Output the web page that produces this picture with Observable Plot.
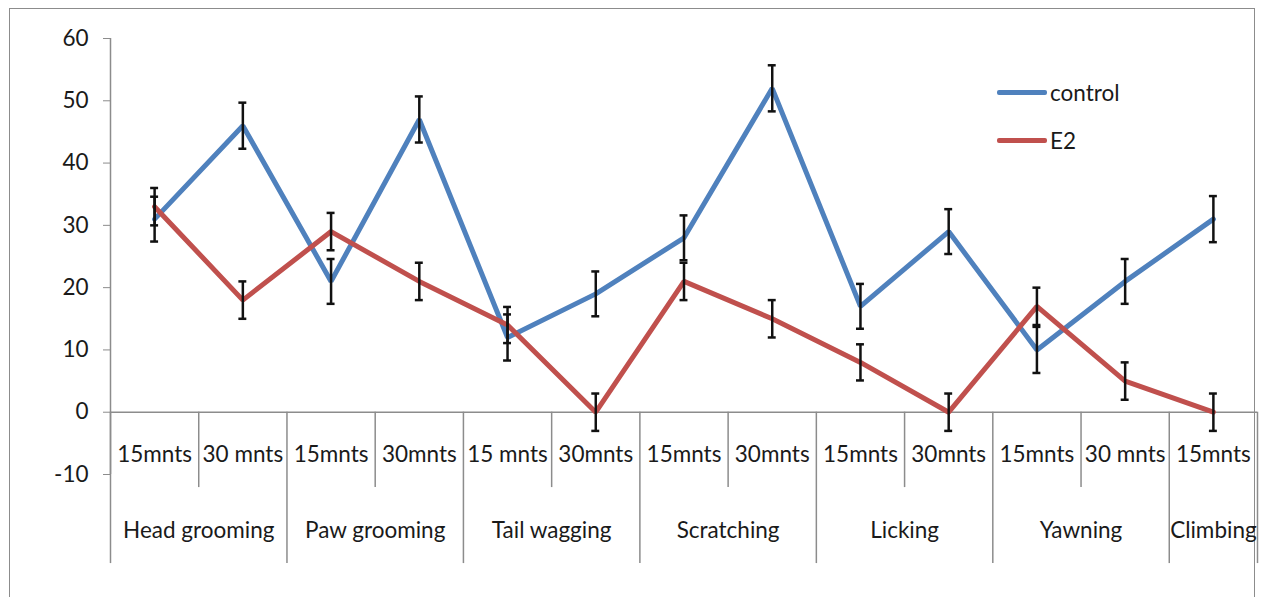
<!DOCTYPE html>
<html><head><meta charset="utf-8">
<script src="https://cdn.jsdelivr.net/npm/d3@7"></script>
<script src="https://cdn.jsdelivr.net/npm/@observablehq/plot@0.6"></script>
<style>
body{margin:0;background:#fff;overflow:hidden;}
#wrap{position:relative;width:1265px;height:597px;overflow:hidden;}
#border{position:absolute;left:9px;top:8px;width:1246px;height:640px;border:1.5px solid #8c8c8c;box-sizing:border-box;}
#chart{position:absolute;left:0;top:0;}
.leg{position:absolute;left:997px;display:flex;align-items:center;font-family:Lato;font-size:22.5px;color:#1a1a1a;}
.leg span.sw{display:inline-block;width:50px;height:5px;border-radius:2px;margin-right:3px;}
</style></head><body>
<div id="wrap"><div id="border"></div><div id="chart"></div>
<div class="leg" style="top:79px"><span class="sw" style="background:#4F81BD"></span>control</div>
<div class="leg" style="top:127px"><span class="sw" style="background:#C0504D"></span>E2</div>
</div>
<script>
const groups = ["Head grooming","Paw grooming","Tail wagging","Scratching","Licking","Yawning","Climbing"];
const groupOf = [0,0,1,1,2,2,3,3,4,4,5,5,6];
const times = ["15mnts","30 mnts","15mnts","30mnts","15 mnts","30mnts","15mnts","30mnts","15mnts","30mnts","15mnts","30 mnts","15mnts"];
const control = [31,46,21,47,12,19,28,52,17,29,10,21,31];
const controlErr = [3.6,3.7,3.6,3.7,3.7,3.6,3.6,3.7,3.6,3.6,3.7,3.6,3.7];
const e2 = [33,18,29,21,14,0,21,15,8,0,17,5,0];
const e2Err = [3,3,3,3,2.9,3,3,3,2.9,3,3,3,3];
const yTicks = [-10,0,10,20,30,40,50,60];

const rows = [];
times.forEach((t,i)=>rows.push({i, series:"control", value:control[i], err:controlErr[i]}));
times.forEach((t,i)=>rows.push({i, series:"E2", value:e2[i], err:e2Err[i]}));
const timeRows = times.map((t,i)=>({i, t}));
const groupRows = groups.map((g,gi)=>{
  const idx = groupOf.map((v,i)=>v===gi?i:-1).filter(i=>i>=0);
  return {g, mid: d3.mean(idx)};
});
const shortSeps = [], longSeps = [];
for (let i=0;i<=times.length;i++){
  const b = i-0.5;
  if (i===0 || i===times.length || groupOf[i]!==groupOf[i-1]) longSeps.push(b); else shortSeps.push(b);
}
const grey = "#8c8c8c";
const capW = 0.045;
const fs = 22.5;

const plot = Plot.plot({
  width:1265, height:597,
  marginLeft:110, marginRight:8, marginTop:38, marginBottom:123,
  style:{fontFamily:"Lato", fontSize:fs+"px", color:"#1a1a1a", background:"transparent", overflow:"visible"},
  x:{type:"linear", domain:[-0.5, times.length-0.5], axis:null},
  y:{domain:[-10,60], label:null},
  color:{domain:["control","E2"], range:["#4F81BD","#C0504D"]},
  marks:[
    Plot.ruleX([-0.5], {y1:60, y2:-10, stroke:grey, strokeWidth:1.5}),
    Plot.ruleY([0], {stroke:grey, strokeWidth:1.5}),
    Plot.ruleX(shortSeps, {x:d=>d, y1:0, y2:-12.1, stroke:grey, strokeWidth:1.5, clip:false}),
    Plot.ruleX(longSeps, {x:d=>d, y1:0, y2:-24.3, stroke:grey, strokeWidth:1.5, clip:false}),
    Plot.axisY({ticks:yTicks, tickSize:7, tickPadding:15, stroke:grey, fontSize:fs, tickFormat:d=>d, label:null, color:"#1a1a1a"}),
    Plot.line(rows, {x:"i", y:"value", z:"series", stroke:"series", strokeWidth:5, strokeLinejoin:"miter"}),
    Plot.ruleX(rows, {x:"i", y1:d=>d.value-d.err, y2:d=>d.value+d.err, stroke:"#111", strokeWidth:2.5}),
    Plot.ruleY(rows, {y:d=>d.value+d.err, x1:d=>d.i-capW, x2:d=>d.i+capW, stroke:"#111", strokeWidth:2.5}),
    Plot.ruleY(rows, {y:d=>d.value-d.err, x1:d=>d.i-capW, x2:d=>d.i+capW, stroke:"#111", strokeWidth:2.5}),
    Plot.text(timeRows, {x:"i", text:"t", frameAnchor:"bottom", dy:-13, fontSize:fs, fill:"#1a1a1a"}),
    Plot.text(groupRows, {x:"mid", text:"g", frameAnchor:"bottom", dy:63, fontSize:fs, fill:"#1a1a1a"})
  ]
});
document.getElementById("chart").appendChild(plot);
</script>
</body></html>
